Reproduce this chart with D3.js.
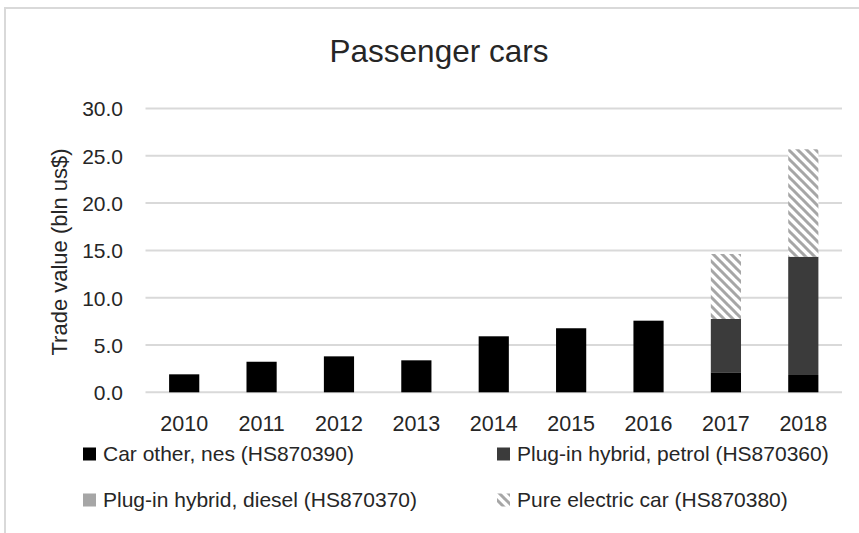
<!DOCTYPE html>
<html>
<head>
<meta charset="utf-8">
<script src="https://cdn.jsdelivr.net/npm/d3@7"></script>
<style>
  body { margin: 0; background: #fff; }
  svg text { font-family: "Liberation Sans", Arial, sans-serif; fill: #262626; }
</style>
</head>
<body>
<svg id="chart" width="859" height="533"></svg>
<script>
// chart data
const years = ['2010', '2011', '2012', '2013', '2014', '2015', '2016', '2017', '2018'];
const carOther = [1.9, 3.23, 3.8, 3.38, 5.92, 6.77, 7.57, 2.11, 1.83];
const hybridPetrol = [0, 0, 0, 0, 0, 0, 0, 5.64, 12.5];
const hybridDiesel = [0, 0, 0, 0, 0, 0, 0, 0, 0];
const pureElectric = [0, 0, 0, 0, 0, 0, 0, 6.87, 11.36];
const yTicks = [0, 5, 10, 15, 20, 25, 30];

const seriesInfo = [
  { key: 'other', label: 'Car other, nes (HS870390)', values: carOther, fill: '#000000' },
  { key: 'petrol', label: 'Plug-in hybrid, petrol (HS870360)', values: hybridPetrol, fill: '#3b3b3b' },
  { key: 'diesel', label: 'Plug-in hybrid, diesel (HS870370)', values: hybridDiesel, fill: '#a6a6a6' },
  { key: 'electric', label: 'Pure electric car (HS870380)', values: pureElectric, fill: 'url(#hatch)' }
];

const rows = years.map((y, i) => {
  const r = { year: y };
  seriesInfo.forEach(s => { r[s.key] = s.values[i]; });
  return r;
});

const svg = d3.select('#chart');

// hatch pattern for the pure electric series
const defs = svg.append('defs');
const pat = defs.append('pattern')
  .attr('id', 'hatch')
  .attr('patternUnits', 'userSpaceOnUse')
  .attr('width', 9)
  .attr('height', 9);
pat.append('rect').attr('width', 9).attr('height', 9).attr('fill', '#fff');
pat.append('path')
  .attr('d', 'M-1,-1 L10,10 M-1,8 L1,10 M8,-1 L10,1')
  .attr('stroke', '#a6a6a6')
  .attr('stroke-width', 3);

// outer frame
svg.append('rect')
  .attr('x', 5).attr('y', 8)
  .attr('width', 900).attr('height', 600)
  .attr('fill', 'none')
  .attr('stroke', '#d9d9d9')
  .attr('stroke-width', 2);

const x = d3.scaleBand()
  .domain(years)
  .range([145.5, 842])
  .paddingInner(0.61)
  .paddingOuter(0.305);

const y = d3.scaleLinear()
  .domain([0, 30])
  .range([392.3, 108.5]);

// gridlines
svg.append('g')
  .selectAll('line')
  .data(yTicks)
  .join('line')
  .attr('x1', 145.5).attr('x2', 842)
  .attr('y1', d => y(d)).attr('y2', d => y(d))
  .attr('stroke', '#d9d9d9')
  .attr('stroke-width', 2);

// y axis labels
const yAxis = svg.append('g')
  .attr('transform', 'translate(123,0)')
  .call(d3.axisLeft(y).tickValues(yTicks).tickFormat(d3.format('.1f')).tickSize(0).tickPadding(0));
yAxis.select('.domain').remove();
yAxis.selectAll('text')
  .style('font-size', '21px')
  .attr('fill', '#262626')
  .attr('dy', '0.35em');

// x axis labels
const xAxis = svg.append('g')
  .attr('transform', 'translate(0,392.3)')
  .call(d3.axisBottom(x).tickSize(0).tickPadding(0));
xAxis.select('.domain').remove();
xAxis.selectAll('text')
  .style('font-size', '21.5px')
  .attr('fill', '#262626')
  .attr('y', 31)
  .attr('dy', '0.35em');

// stacked bars
const stack = d3.stack().keys(seriesInfo.map(s => s.key));
const stacked = stack(rows);

svg.append('g')
  .selectAll('g')
  .data(stacked)
  .join('g')
  .attr('fill', (d, i) => seriesInfo[i].fill)
  .selectAll('rect')
  .data(d => d)
  .join('rect')
  .attr('x', d => x(d.data.year))
  .attr('width', x.bandwidth())
  .attr('y', d => y(d[1]))
  .attr('height', d => y(d[0]) - y(d[1]));

// title
svg.append('text')
  .attr('x', 439)
  .attr('y', 62)
  .attr('text-anchor', 'middle')
  .style('font-size', '31.5px')
  .text('Passenger cars');

// y axis title
svg.append('text')
  .attr('transform', 'translate(59,252) rotate(-90)')
  .attr('text-anchor', 'middle')
  .attr('dy', '0.35em')
  .style('font-size', '22px')
  .text('Trade value (bln us$)');

// legend
const legendPos = [
  { mx: 83, ty: 454 },
  { mx: 497, ty: 454 },
  { mx: 83, ty: 500 },
  { mx: 497, ty: 500 }
];
const legend = svg.append('g')
  .selectAll('g')
  .data(seriesInfo)
  .join('g')
  .attr('transform', (d, i) => `translate(${legendPos[i].mx},${legendPos[i].ty})`);
legend.append('rect')
  .attr('x', 0).attr('y', -6.5)
  .attr('width', 13).attr('height', 13)
  .attr('fill', d => d.fill);
legend.append('text')
  .attr('x', 20)
  .attr('dy', '0.35em')
  .style('font-size', '21px')
  .text(d => d.label);
</script>
</body>
</html>
